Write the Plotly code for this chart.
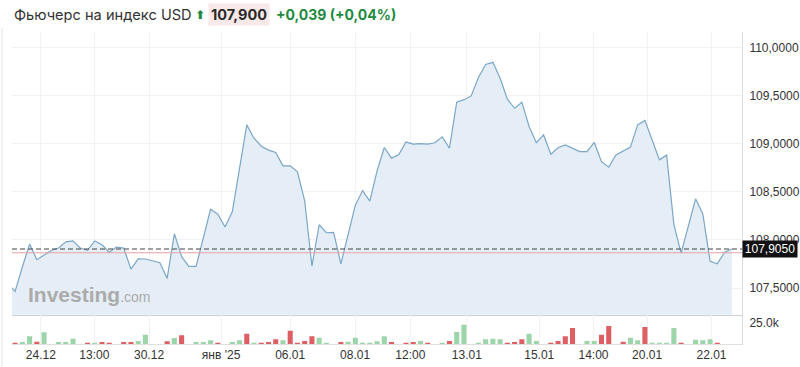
import plotly.graph_objects as go

# ---- data ----
price = [107.543,
         107.465, 107.718, 107.956, 107.794, 107.840, 107.890, 107.915, 107.980, 107.989, 107.915,
         107.892, 107.989, 107.949, 107.871, 107.925, 107.915, 107.697, 107.802, 107.801, 107.778,
         107.762, 107.600, 108.063, 107.825, 107.724, 107.724, 108.022, 108.317, 108.266, 108.133,
         108.291, 108.748, 109.194, 109.056, 108.973, 108.932, 108.907, 108.769, 108.769, 108.706,
         108.406, 107.728, 108.157, 108.074, 108.077, 107.750, 108.053, 108.361, 108.512, 108.402,
         108.717, 108.959, 108.849, 108.886, 109.016, 108.995, 109.000, 108.995, 109.009, 109.070,
         108.952, 109.429, 109.456, 109.495, 109.687, 109.822, 109.844, 109.678, 109.461, 109.367,
         109.430, 109.178, 109.010, 109.090, 108.890, 108.957, 108.987, 108.950, 108.917, 108.917,
         109.012, 108.812, 108.755, 108.883, 108.927, 108.963, 109.194, 109.241, 109.038, 108.831,
         108.880, 108.157, 107.863, 108.146, 108.426, 108.269, 107.778, 107.752, 107.871, 107.905]

volume = [1200, 2400, 9200, 2700, 13900, 0, 2400, 2400, 6300, 0,
          600, 600, 2400, 1500, 0, 2400, 2400, 3600, 11100, 0,
          0, 3200, 7100, 10400, 0, 2400, 2400, 4400, 1500, 0,
          2400, 4400, 12300, 1200, 600, 2400, 5600, 4400, 15800, 600,
          3600, 9200, 7500, 600, 0, 2400, 2700, 7500, 600, 600,
          3200, 9200, 2400, 0, 800, 2400, 3600, 400, 0, 1200,
          3600, 14300, 23000, 0, 1200, 5600, 6300, 5600, 400, 2400,
          5600, 12300, 3600, 0, 1200, 3600, 9200, 19000, 0, 3600,
          3600, 11100, 21400, 0, 2700, 7500, 4400, 20200, 800, 1200,
          1200, 19000, 400, 0, 5100, 4400, 5600, 1500, 0, 0]

direction = list("rggrggggggrgrrgrrggg"
                 "grgrggggrgggrgrrrgrr"
                 "rrgggrggggggrgrrgrgg"
                 "rgggggggrrrgggrrrrgg"
                 "grrgrggrggggrggggrrr"
                 "grrggrrrgg")

tick_pos = [3.55, 10.95, 18.5, 28.45, 38.0, 46.96, 54.6, 62.4, 72.4, 79.9, 87.3, 96.2]
tick_text = ["24.12", "13:00", "30.12", "янв '25", "06.01", "08.01",
             "12:00", "13.01", "15.01", "14:00", "20.01", "22.01"]

price_ticks = [107.5, 108.0, 108.5, 109.0, 109.5, 110.0]
price_tick_text = ["107,5000", "108,0000", "108,5000", "109,0000", "109,5000", "110,0000"]
vol_ticks = [25000]
vol_tick_text = ["25.0k"]

last_price = 107.905
prev_close = 107.866

# ---- figure ----
GREEN = "#9dd5ab"
RED = "#dd5f63"
AXFONT = dict(family="Liberation Sans, Arial, sans-serif", size=12, color="#333333")

x_price = list(range(-1, len(price) - 1))
x_vol = list(range(len(volume)))

fig = go.Figure()
fig.add_trace(go.Scatter(
    x=x_price, y=price, mode="lines",
    line=dict(color="#7ba6c8", width=1.2),
    fill="tozeroy", fillcolor="#e5eef6",
    xaxis="x", yaxis="y", hoverinfo="skip"))
fig.add_trace(go.Bar(
    x=x_vol, y=volume,
    marker=dict(color=[GREEN if d == "g" else RED for d in direction], line=dict(width=0)),
    width=0.7, xaxis="x2", yaxis="y2", hoverinfo="skip"))

xr = [-0.43, 100.41]
fig.update_layout(
    width=800, height=367,
    margin=dict(l=12, r=58, t=32, b=23),
    paper_bgcolor="white", plot_bgcolor="white",
    showlegend=False,
    xaxis=dict(domain=[0, 1], anchor="y", range=xr, tickvals=tick_pos, automargin=False,
               showticklabels=False, showgrid=True, gridcolor="#f2f2f2",
               zeroline=False, showline=True, linecolor="#d0d0d0", ticks=""),
    xaxis2=dict(domain=[0, 1], anchor="y2", range=xr, tickvals=tick_pos, ticktext=tick_text,
                automargin=False,
                tickfont=AXFONT, showgrid=True, gridcolor="#f2f2f2",
                zeroline=False, showline=True, linecolor="#e0e0e0", ticks=""),
    yaxis=dict(domain=[0.094, 1], anchor="x", side="right", range=[107.223, 110.159],
               automargin=False,
               tickvals=price_ticks, ticktext=price_tick_text, tickfont=AXFONT,
               showgrid=True, gridcolor="#f2f2f2", zeroline=False,
               showline=True, linecolor="#dcdcdc", ticks="", ticklabelstandoff=4),
    yaxis2=dict(domain=[0, 0.094], anchor="x2", side="right", range=[0, 35000],
                automargin=False,
                tickvals=vol_ticks, ticktext=vol_tick_text, tickfont=AXFONT,
                showgrid=False, zeroline=False,
                showline=True, linecolor="#dcdcdc", ticks="", ticklabelstandoff=4),
)

# reference lines
fig.add_shape(type="line", xref="paper", yref="y", x0=0, x1=1, y0=prev_close, y1=prev_close,
              line=dict(color="#e8a2a2", width=1))
fig.add_shape(type="line", xref="paper", yref="y", x0=0, x1=1, y0=last_price, y1=last_price,
              line=dict(color="#444444", width=1.2, dash="5px,3px"))
# container left border
fig.add_shape(type="line", xref="paper", yref="paper", x0=-0.0137, x1=-0.0137,
              y0=-0.074, y1=1.013, line=dict(color="#e3e3e3", width=1))

# last price box
fig.add_annotation(xref="paper", yref="y", x=1.0, y=last_price, xanchor="left", yanchor="middle",
                   text="107,9050", showarrow=False, bgcolor="#111111",
                   font=dict(family="Liberation Sans, Arial, sans-serif", size=12, color="white"),
                   width=52, height=14, borderpad=1)

# watermark
fig.add_annotation(xref="paper", yref="paper", x=0.0192, y=0.160, xanchor="left", yanchor="middle",
                   text="<b>Investing</b><span style='font-size:14px'>.com</span>", showarrow=False,
                   font=dict(family="Liberation Sans, Arial, sans-serif", size=21, color="#ababab"))

# header
HF = "Inter, Roboto, sans-serif"
fig.add_annotation(xref="paper", yref="paper", x=0.0, y=1.0545, xanchor="left", yanchor="middle",
                   text="Фьючерс на индекс USD", showarrow=False,
                   font=dict(family=HF, size=14.6, color="#333333"))
fig.add_annotation(xref="paper", yref="paper", x=0.2582, y=1.0545, xanchor="center", yanchor="middle",
                   text="<b>⬆</b>", showarrow=False,
                   font=dict(family="DejaVu Sans", size=12, color="#1e8a3e"))
fig.add_annotation(xref="paper", yref="paper", x=0.2685, y=1.0545, xanchor="left", yanchor="middle",
                   text="<b>107,900</b>", showarrow=False, bgcolor="#f8e8e8", borderpad=2,
                   font=dict(family=HF, size=14.5, color="#2a2a2a"))
fig.add_annotation(xref="paper", yref="paper", x=0.3589, y=1.0545, xanchor="left", yanchor="middle",
                   text="<b>+0,039 (+0,04%)</b>", showarrow=False,
                   font=dict(family=HF, size=14, color="#1e8a3e"))

fig.write_html("out.html")
